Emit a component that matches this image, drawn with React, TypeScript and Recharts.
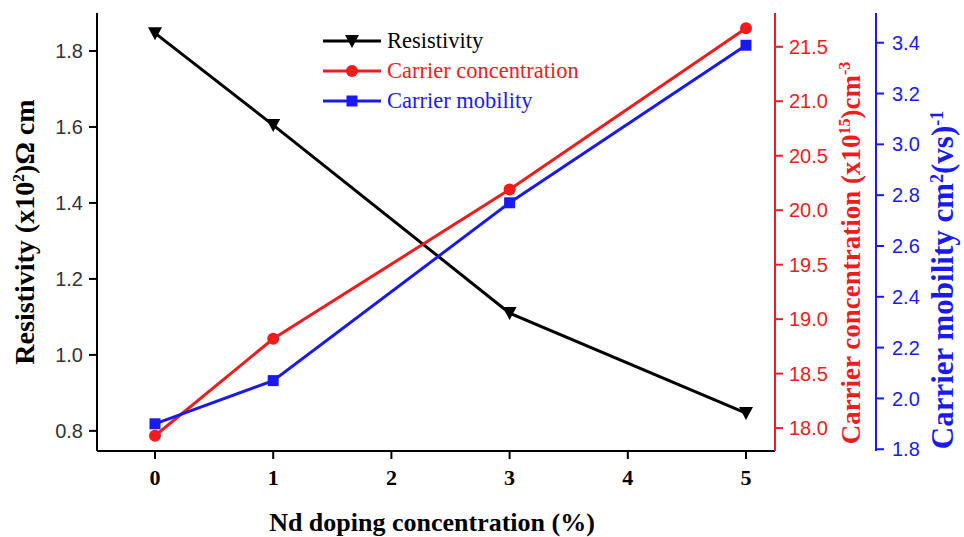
import React from "react"
import {
  LineChart,
  Line,
  XAxis,
  YAxis,
  Legend,
} from "recharts"

// Nd doping level (%) and measured electrical properties
const dopingPct = [0, 1, 3, 5]
const resistivity = [1.847, 1.605, 1.11, 0.847] // x10^2 ohm cm
const carrierConc = [17.93, 18.82, 20.19, 21.67] // x10^15 cm^-3
const carrierMob = [1.9, 2.07, 2.77, 3.39] // cm^2 (Vs)^-1

const xTicks = [0, 1, 2, 3, 4, 5]
const resTicks = [0.8, 1.0, 1.2, 1.4, 1.6, 1.8]
const concTicks = [18.0, 18.5, 19.0, 19.5, 20.0, 20.5, 21.0, 21.5]
const mobTicks = [1.8, 2.0, 2.2, 2.4, 2.6, 2.8, 3.0, 3.2, 3.4]

// one row per integer level so the x axis is evenly spaced;
// levels without a sample stay null and the lines bridge them
const data = xTicks.map((x) => {
  const i = dopingPct.indexOf(x)
  return {
    x,
    res: i >= 0 ? resistivity[i] : null,
    conc: i >= 0 ? carrierConc[i] : null,
    mob: i >= 0 ? carrierMob[i] : null,
  }
})

// same inset for the data axis and the drawn tick axis
const X_PAD = { left: 58, right: 29 }

const RED = "#ee1c1c"
const BLUE = "#1a1aee"
const serif = "'Liberation Serif', 'Times New Roman', serif"
const sans = "'Liberation Sans', Arial, sans-serif"

const TriangleDown = ({ cx, cy, fill = "#000" }: any) => {
  if (cx == null || cy == null) return null
  return (
    <polygon
      points={`${cx - 7},${cy - 6} ${cx + 7},${cy - 6} ${cx},${cy + 7}`}
      fill={fill}
    />
  )
}

const Circle = ({ cx, cy, fill = RED }: any) => {
  if (cx == null || cy == null) return null
  return <circle cx={cx} cy={cy} r={6} fill={fill} />
}

const Square = ({ cx, cy, fill = BLUE }: any) => {
  if (cx == null || cy == null) return null
  return <rect x={cx - 5.5} y={cy - 5.5} width={11} height={11} fill={fill} />
}

const series = [
  { key: "res", name: "Resistivity", color: "#000", Marker: TriangleDown },
  { key: "conc", name: "Carrier concentration", color: RED, Marker: Circle },
  { key: "mob", name: "Carrier mobility", color: BLUE, Marker: Square },
]

const fmt1 = (v: number) => v.toFixed(1)

function LegendBox() {
  return (
    <div style={{ fontFamily: serif, fontSize: 22.5, lineHeight: "30px" }}>
      {series.map(({ key, name, color, Marker }) => (
        <div key={key} style={{ display: "flex", alignItems: "center", height: 30 }}>
          <svg width={64} height={30}>
            <line x1={0} y1={15} x2={58} y2={15} stroke={color} strokeWidth={3} />
            <Marker cx={29} cy={15} fill={color} />
          </svg>
          <span style={{ color }}>{name}</span>
        </div>
      ))}
    </div>
  )
}

const Title = ({ x, y, angle = 0, fill = "#000", size = 25, children }: any) => (
  <text
    transform={`translate(${x},${y}) rotate(${angle})`}
    textAnchor="middle"
    fill={fill}
    fontFamily={serif}
    fontWeight="bold"
    fontSize={size}
  >
    {children}
  </text>
)

// superscripts: raise with dy, the following run drops back down
const SUP = 10

export default function App() {
  return (
    <div style={{ position: "absolute", left: 0, top: 0, width: 964, height: 537, background: "#fff" }}>
      <LineChart
        width={964}
        height={537}
        data={data}
        margin={{ top: 13, right: 0, bottom: 0, left: 0 }}
      >
        {/* positions the series */}
        <XAxis xAxisId="x" dataKey="x" type="category" padding={X_PAD} hide />
        {/* drawn bottom axis with every integer tick */}
        <XAxis
          xAxisId="scale"
          type="number"
          domain={[0, 5]}
          ticks={xTicks}
          interval={0}
          padding={X_PAD}
          height={86}
          stroke="#000"
          strokeWidth={2}
          tickSize={8}
          tickMargin={10}
          tick={{ fill: "#000", fontFamily: serif, fontWeight: "bold", fontSize: 22 }}
          label={{
            content: () => (
              <Title x={432} y={531} size={26}>
                Nd doping concentration (%)
              </Title>
            ),
          }}
        />
        {/* top frame line */}
        <XAxis
          xAxisId="top"
          type="number"
          orientation="top"
          height={0}
          tick={false}
          tickLine={false}
          stroke="#000"
          strokeWidth={2}
        />
        <YAxis
          yAxisId="res"
          type="number"
          domain={[0.747, 1.9]}
          ticks={resTicks}
          interval={0}
          allowDataOverflow
          width={97}
          stroke="#000"
          strokeWidth={2}
          tickSize={8}
          tickMargin={6}
          tickFormatter={fmt1}
          tick={{ fill: "#333", fontFamily: sans, fontSize: 20 }}
          label={{
            content: () => (
              <Title x={34} y={232} angle={-90} size={28}>
                <tspan>Resistivity (x10</tspan>
                <tspan dy={-SUP} fontSize={16}>2</tspan>
                <tspan dy={SUP}>)Ω cm</tspan>
              </Title>
            ),
          }}
        />
        <YAxis
          yAxisId="conc"
          orientation="right"
          type="number"
          domain={[17.79, 21.81]}
          ticks={concTicks}
          interval={0}
          allowDataOverflow
          width={101}
          stroke={RED}
          strokeWidth={2}
          tickSize={8}
          tickMargin={6}
          tickFormatter={fmt1}
          tick={{ fill: RED, fontFamily: sans, fontSize: 20 }}
          label={{
            content: () => (
              <Title x={860} y={253} angle={-90} fill={RED} size={27}>
                <tspan>Carrier concentration (x10</tspan>
                <tspan dy={-SUP} fontSize={16}>15</tspan>
                <tspan dy={SUP}>)cm</tspan>
                <tspan dy={-SUP} fontSize={16}>-3</tspan>
              </Title>
            ),
          }}
        />
        <YAxis
          yAxisId="mob"
          orientation="right"
          type="number"
          domain={[1.793, 3.517]}
          ticks={mobTicks}
          interval={0}
          allowDataOverflow
          width={88}
          stroke={BLUE}
          strokeWidth={2}
          tickSize={8}
          tickMargin={8}
          tickFormatter={fmt1}
          tick={{ fill: BLUE, fontFamily: sans, fontSize: 20 }}
          label={{
            content: () => (
              <Title x={953} y={280} angle={-90} fill={BLUE} size={31}>
                <tspan>Carrier mobility cm</tspan>
                <tspan dy={-SUP} fontSize={18}>2</tspan>
                <tspan dy={SUP}>(vs)</tspan>
                <tspan dy={-SUP} fontSize={18}>-1</tspan>
              </Title>
            ),
          }}
        />
        <Legend
          layout="horizontal"
          verticalAlign="middle"
          align="center"
          content={() => <LegendBox />}
          wrapperStyle={{ left: 323, top: 26, width: 290 }}
        />
        {series.map(({ key, name, color, Marker }) => (
          <Line
            key={key}
            xAxisId="x"
            yAxisId={key}
            dataKey={key}
            name={name}
            stroke={color}
            strokeWidth={3}
            connectNulls
            dot={<Marker fill={color} />}
            activeDot={false}
            isAnimationActive={false}
          />
        ))}
      </LineChart>
    </div>
  )
}
